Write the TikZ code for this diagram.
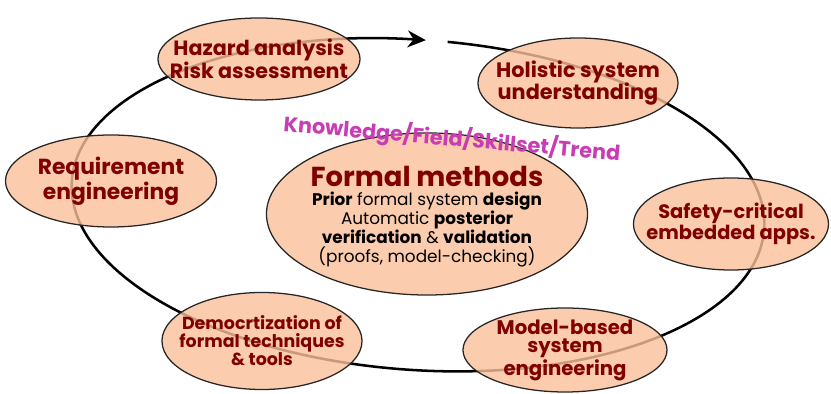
\documentclass[tikz,border=0pt]{standalone}
\usepackage{fontspec}
\setmainfont{Poppins}
\usetikzlibrary{shapes.geometric, arrows.meta}
\definecolor{DarkRed}{RGB}{128,0,0}
\definecolor{Peach}{RGB}{250,192,154}
\definecolor{Orchid}{RGB}{200,60,180}

\begin{document}
\begin{tikzpicture}[
  x=0.025cm, y=0.025cm,
  bubble/.style={ellipse, draw=black!85, line width=0.9pt, fill=Peach,
                 fill opacity=0.8, inner sep=0pt},
  bubtext/.style 2 args={text=DarkRed, align=center, inner sep=0pt,
                  font=\bfseries\fontsize{#1}{#2}\selectfont},
  cycle/.style={line width=1.8pt, -{Stealth[length=13pt, width=12pt]}}
]
\useasboundingbox (0,0) rectangle (831,394);

% the big loop, open at the top
\draw[cycle, rotate around={-4:(418,189)}]
  ([shift={(87:347 and 165)}]418,189)
  arc[start angle=87, end angle=-269.4, x radius=347, y radius=165];

% topics around the loop
\node[bubble, minimum width=5.05cm, minimum height=2.05cm] (hazard) at (259,335) {};
\node[bubtext={14.7}{15}] (hazard-txt) at (hazard) {Hazard analysis\\Risk assessment};

\node[bubble, minimum width=5.0cm, minimum height=2.25cm] (holistic) at (578,311) {};
\node[bubtext={14.8}{16}] (holistic-txt) at (holistic) {Holistic system\\understanding};

\node[bubble, minimum width=5.275cm, minimum height=2.3cm] (require) at (111,213) {};
\node[bubtext={15.5}{18}] (require-txt) at (require) {Requirement\\engineering};

\node[bubble, minimum width=4.875cm, minimum height=2.3cm] (safety) at (731,170) {};
\node[bubtext={13.8}{13.5}] (safety-txt) at (safety) {Safety-critical\\embedded apps.};

\node[bubble, minimum width=5.0cm, minimum height=2.425cm] (democ) at (262,53) {};
\node[bubtext={12.4}{12.8}] (democ-txt) at (democ) {Democrtization of\\formal techniques\\\& tools};

\node[bubble, minimum width=5.1cm, minimum height=2.1cm] (model) at (565,44) {};
\node[bubtext={14}{13.2}] (model-txt) at (model) {Model-based\\system\\engineering};

% centre
\node[bubble, minimum width=8.025cm, minimum height=4.05cm] (formal) at (427,180) {};
\node[text=DarkRed, inner sep=0pt, font=\bfseries\fontsize{19.5}{22}\selectfont]
  (formal-title) at (427,218) {Formal methods};
\node[align=center, inner sep=0pt, anchor=north, font=\fontsize{12}{13.4}\selectfont]
  (formal-body) at (427,202)
  {\textbf{Prior} formal system \textbf{design}\\
   Automatic \textbf{posterior}\\
   \textbf{verification} \& \textbf{validation}\\
   (proofs, model-checking)};

\node[rotate=-5, text=Orchid, inner sep=0pt,
      font=\bfseries\fontsize{14.8}{16}\selectfont]
  (trend) at (452,255) {Knowledge/Field/Skillset/Trend};

\end{tikzpicture}
\end{document}
